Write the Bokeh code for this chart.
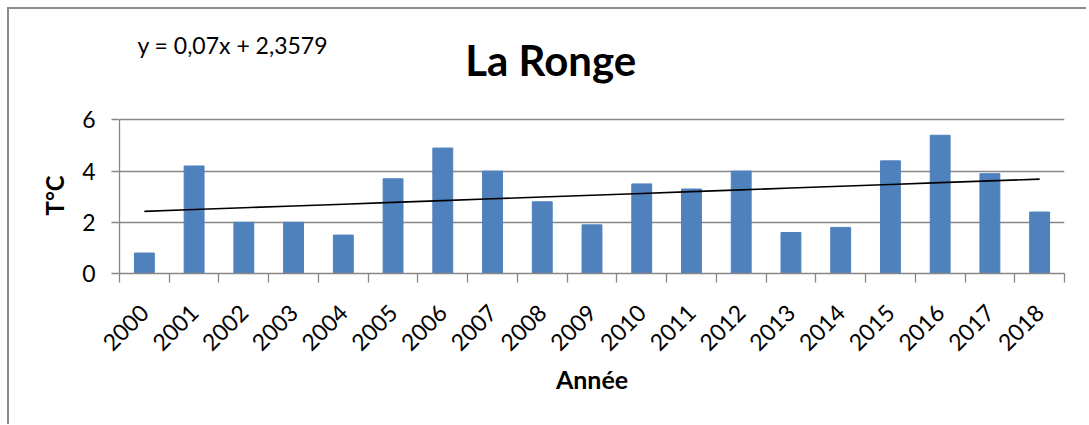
import math
from bokeh.plotting import figure
from bokeh.models import Range1d, FixedTicker, Label, Title
from bokeh.embed import file_html
from bokeh.resources import INLINE

# ---- data ----
years = [2000, 2001, 2002, 2003, 2004, 2005, 2006, 2007, 2008, 2009,
         2010, 2011, 2012, 2013, 2014, 2015, 2016, 2017, 2018]
temps = [0.8, 4.2, 2.0, 2.0, 1.5, 3.7, 4.9, 4.0, 2.8, 1.9,
         3.5, 3.3, 4.0, 1.6, 1.8, 4.4, 5.4, 3.9, 2.4]
tick_labels = [str(y) for y in years]
y_ticks = [0, 2, 4, 6]
trend_slope = 0.07
trend_intercept = 2.3579
title_text = "La Ronge"
equation_text = "y = 0,07x + 2,3579"
x_label = "Année"
y_label = "T°C"

# trendline from the stated equation (x = 1..n, Excel style)
trend_y = [trend_slope * (i + 1) + trend_intercept for i in range(len(years))]

FONT = "Lato"
GRID = "#868686"
BAR = "#4F81BD"

# frame extends above the value axis so the title/equation sit inside it
p = figure(width=1086, height=424, output_backend="svg", toolbar_location=None,
           x_range=Range1d(years[0] - 0.5, years[-1] + 0.5),
           y_range=Range1d(0, 10),
           min_border_left=119, min_border_right=22,
           min_border_top=17, min_border_bottom=151)
p.border_fill_color = None
p.background_fill_color = "white"
p.outline_line_color = None
p.styles = {"box-shadow": "inset 7px 7px 0 0 white, inset 9px 9px 0 0 #8c8c8c",
            "background": "white"}

p.vbar(x=years, top=temps, width=0.4, bottom=0, fill_color=BAR, line_color=BAR)
p.line(x=years, y=trend_y, line_color="black", line_width=1.6)

# grid
p.xgrid.visible = False
p.ygrid.ticker = FixedTicker(ticks=y_ticks)
p.ygrid.grid_line_color = GRID
p.ygrid.grid_line_width = 1.3

# y axis
p.yaxis.ticker = FixedTicker(ticks=y_ticks)
p.yaxis.bounds = (y_ticks[0], y_ticks[-1])
p.yaxis.axis_line_color = GRID
p.yaxis.axis_line_width = 1.3
p.yaxis.major_tick_line_color = GRID
p.yaxis.major_tick_line_width = 1.3
p.yaxis.major_tick_out = 8
p.yaxis.major_tick_in = 0
p.yaxis.minor_tick_line_color = None
p.yaxis.major_label_text_font = FONT
p.yaxis.major_label_text_font_size = "23px"
p.yaxis.major_label_text_color = "black"
p.yaxis.major_label_standoff = 16

# y-axis title, placed along the value part of the axis (0..6)
p.add_layout(Title(text=y_label, align="left", offset=58, standoff=22,
                   text_font=FONT, text_font_style="bold",
                   text_font_size="24px", text_color="black"), "left")

# x axis
boundaries = [y - 0.5 for y in years] + [years[-1] + 0.5]
p.xaxis.ticker = FixedTicker(ticks=years, minor_ticks=boundaries)
p.xaxis.major_label_overrides = {y: t for y, t in zip(years, tick_labels)}
p.xaxis.axis_line_color = GRID
p.xaxis.axis_line_width = 1.3
p.xaxis.major_tick_line_color = None
p.xaxis.major_tick_out = 9
p.xaxis.major_tick_in = 0
p.xaxis.minor_tick_line_color = GRID
p.xaxis.minor_tick_line_width = 1.3
p.xaxis.minor_tick_out = 9
p.xaxis.minor_tick_in = 0
p.xaxis.major_label_orientation = math.pi / 4
p.xaxis.major_label_text_font = FONT
p.xaxis.major_label_text_font_size = "23px"
p.xaxis.major_label_text_color = "black"
p.xaxis.major_label_standoff = 26
p.xaxis.axis_label = x_label
p.xaxis.axis_label_text_font = FONT
p.xaxis.axis_label_text_font_style = "bold"
p.xaxis.axis_label_text_font_size = "25px"
p.xaxis.axis_label_text_color = "black"
p.xaxis.axis_label_standoff = 3

# title and equation labels (data space, in the upper part of the frame)
p.add_layout(Label(x=2008.17, y=8.33, text=title_text, text_font=FONT,
                   text_font_style="bold", text_font_size="42px",
                   text_align="center", text_baseline="middle", text_color="black"))
p.add_layout(Label(x=1999.86, y=8.91, text=equation_text, text_font=FONT,
                   text_font_size="23px", text_align="left",
                   text_baseline="middle", text_color="black"))

open("out.html", "w").write(file_html(p, INLINE))
